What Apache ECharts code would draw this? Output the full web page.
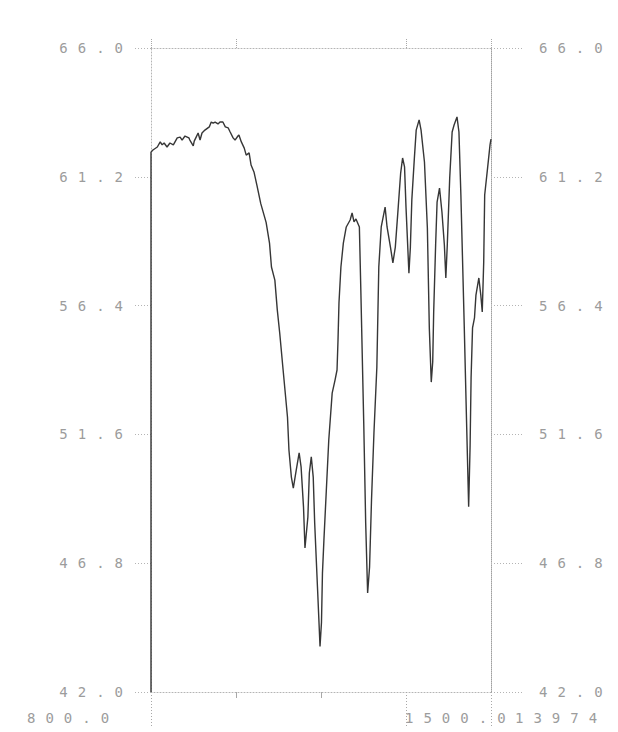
<!DOCTYPE html>
<html>
<head>
<meta charset="utf-8">
<script src="https://cdn.jsdelivr.net/npm/echarts@6/dist/echarts.min.js"></script>
<style>
  html, body { margin: 0; padding: 0; background: #ffffff; }
  /* wide dot-matrix style spacing for the plotter labels */
  #chart { width: 618px; height: 732px; letter-spacing: 10px; }
</style>
</head>
<body>
<div id="chart"></div>
<script>
// IR transmittance trace, wavenumber (cm-1) vs %T
const wavenumber = [
  800, 800, 804, 813, 819, 823, 827, 833, 839, 846,
  854, 860, 864, 870, 878, 880, 887, 889, 893, 897,
  901, 905, 911, 920, 924, 928, 932, 938, 942, 948,
  953, 959, 963, 969, 973, 979, 981, 986, 992, 996,
  1002, 1006, 1012, 1018, 1026, 1037, 1044, 1048, 1055, 1060,
  1065, 1072, 1081, 1084, 1089, 1093, 1099, 1105, 1109, 1114,
  1117, 1123, 1126, 1130, 1134, 1137, 1143, 1148, 1151, 1153,
  1156, 1161, 1166, 1173, 1179, 1183, 1185, 1187, 1191, 1196,
  1202, 1210, 1214, 1218, 1222, 1229, 1232, 1238, 1242, 1246,
  1250, 1254, 1259, 1265, 1269, 1274, 1282, 1286, 1293, 1298,
  1303, 1309, 1314, 1318, 1322, 1325, 1331, 1334, 1337, 1342,
  1346, 1352, 1356, 1363, 1369, 1373, 1377, 1380, 1382, 1386,
  1389, 1394, 1399, 1404, 1407, 1410, 1415, 1420, 1424, 1430,
  1434, 1438, 1445, 1450, 1454, 1457, 1459, 1462, 1466, 1469,
  1475, 1479, 1482, 1485, 1487, 1493, 1498, 1500
];
const transmittance = [
  42.0, 62.12, 62.20, 62.31, 62.50, 62.39, 62.46, 62.31, 62.46, 62.39,
  62.65, 62.68, 62.57, 62.72, 62.65, 62.57, 62.35, 62.53, 62.68, 62.83,
  62.57, 62.83, 62.94, 63.06, 63.24, 63.20, 63.24, 63.17, 63.24, 63.24,
  63.06, 63.02, 62.87, 62.65, 62.57, 62.72, 62.76, 62.50, 62.27, 62.01,
  62.09, 61.64, 61.38, 60.89, 60.20, 59.50, 58.73, 57.84, 57.35, 56.24,
  55.38, 54.00, 52.25, 51.02, 50.01, 49.60, 50.27, 50.91, 50.39, 48.89,
  47.37, 48.52, 50.16, 50.76, 50.01, 48.30, 45.80, 43.70, 44.60, 46.43,
  47.66, 49.53, 51.39, 53.14, 53.63, 54.00, 55.10, 56.50, 57.84, 58.73,
  59.33, 59.59, 59.85, 59.52, 59.63, 59.33, 56.98, 52.02, 48.30, 45.69,
  46.66, 49.16, 51.65, 54.11, 57.84, 59.33, 60.07, 59.33, 58.58, 57.99,
  58.58, 60.07, 61.34, 61.90, 61.57, 60.07, 57.61, 58.58, 60.34, 61.83,
  62.94, 63.32, 62.94, 61.75, 59.29, 55.57, 53.55, 54.30, 56.16, 58.66,
  60.26, 60.78, 59.89, 58.66, 57.43, 58.66, 61.16, 62.87, 63.13, 63.43,
  62.87, 60.52, 55.57, 51.84, 48.90, 51.20, 53.70, 55.57, 55.94, 56.79,
  57.43, 56.79, 56.16, 58.02, 60.52, 61.53, 62.39, 62.60
];

// axis scales and tick marks
const yMin = 42.0, yMax = 66.0;
const yTicks = [42.0, 46.8, 51.6, 56.4, 61.2, 66.0];
const xMin = 800, xMax = 1500;
const xShortTicks = [975, 1150];
const xLongTicks = [800, 1325, 1500];
const xTopTicks = [800, 975, 1325, 1500];
const xEndLabels = ['800.0', '1500.0'];
const runCode = '13974';

const LABEL_COLOR = '#9c9c9c';
const LABEL_FONT = '"DejaVu Sans Mono", "Liberation Mono", monospace';
const DOT_LINE = { color: '#b4b4b4', width: 1, type: [1, 2] };

const chart = echarts.init(document.getElementById('chart'), null, { renderer: 'svg' });

const yLabel = margin => ({
  show: true,
  customValues: yTicks,
  formatter: v => v.toFixed(1),
  color: LABEL_COLOR,
  fontFamily: LABEL_FONT,
  fontSize: 14,
  margin: margin
});

const option = {
  backgroundColor: '#ffffff',
  animation: false,
  grid: { left: 151, right: 127, top: 48, bottom: 40, containLabel: false },
  xAxis: [
    {
      type: 'value', position: 'bottom', min: xMin, max: xMax,
      axisLine: { show: true, lineStyle: DOT_LINE },
      axisTick: { show: true, customValues: xShortTicks, length: 6, lineStyle: { color: '#a8a8a8', width: 1 } },
      axisLabel: { show: false },
      splitLine: { show: false }
    },
    {
      type: 'value', position: 'bottom', min: xMin, max: xMax,
      axisLine: { show: false },
      axisTick: { show: true, customValues: xLongTicks, length: 34, lineStyle: { color: '#a8a8a8', width: 1, type: [1, 2] } },
      axisLabel: { show: false },
      splitLine: { show: false }
    },
    {
      type: 'value', position: 'top', min: xMin, max: xMax,
      axisLine: { show: true, lineStyle: DOT_LINE },
      axisTick: { show: true, customValues: xTopTicks, length: 10, lineStyle: { color: '#a8a8a8', width: 1, type: [1, 1] } },
      axisLabel: { show: false },
      splitLine: { show: false }
    }
  ],
  yAxis: [
    {
      type: 'value', position: 'left', min: yMin, max: yMax,
      axisLine: { show: true, lineStyle: DOT_LINE },
      axisTick: { show: true, customValues: yTicks, length: 18, lineStyle: DOT_LINE },
      axisLabel: yLabel(18),
      splitLine: { show: false }
    },
    {
      type: 'value', position: 'right', min: yMin, max: yMax,
      axisLine: { show: true, lineStyle: { color: '#a0a0a0', width: 1, type: [1, 1] } },
      axisTick: { show: true, customValues: yTicks, length: 32, lineStyle: DOT_LINE },
      axisLabel: yLabel(48),
      splitLine: { show: false }
    }
  ],
  series: [
    {
      type: 'line',
      xAxisIndex: 0,
      yAxisIndex: 0,
      data: wavenumber.map((w, i) => [w, transmittance[i]]),
      showSymbol: false,
      symbol: 'none',
      smooth: false,
      clip: false,
      lineStyle: { color: '#363636', width: 1.4 }
    }
  ]
};

chart.setOption(option);

// end-of-scan labels printed under the frame
const xLeftPx = chart.convertToPixel({ xAxisIndex: 0 }, xMin);
const xRightPx = chart.convertToPixel({ xAxisIndex: 0 }, xMax);
const baseY = chart.convertToPixel({ yAxisIndex: 0 }, yMin);
const labelStyle = { fill: LABEL_COLOR, font: '14px ' + LABEL_FONT, textVerticalAlign: 'middle' };

chart.setOption({
  graphic: [
    { type: 'text', x: xLeftPx - 124, y: baseY + 26, style: Object.assign({ text: xEndLabels[0] }, labelStyle) },
    { type: 'text', x: xRightPx - 86, y: baseY + 26, style: Object.assign({ text: xEndLabels[1] }, labelStyle) },
    { type: 'text', x: xRightPx + 24, y: baseY + 26, style: Object.assign({ text: runCode }, labelStyle) }
  ]
});
</script>
</body>
</html>
